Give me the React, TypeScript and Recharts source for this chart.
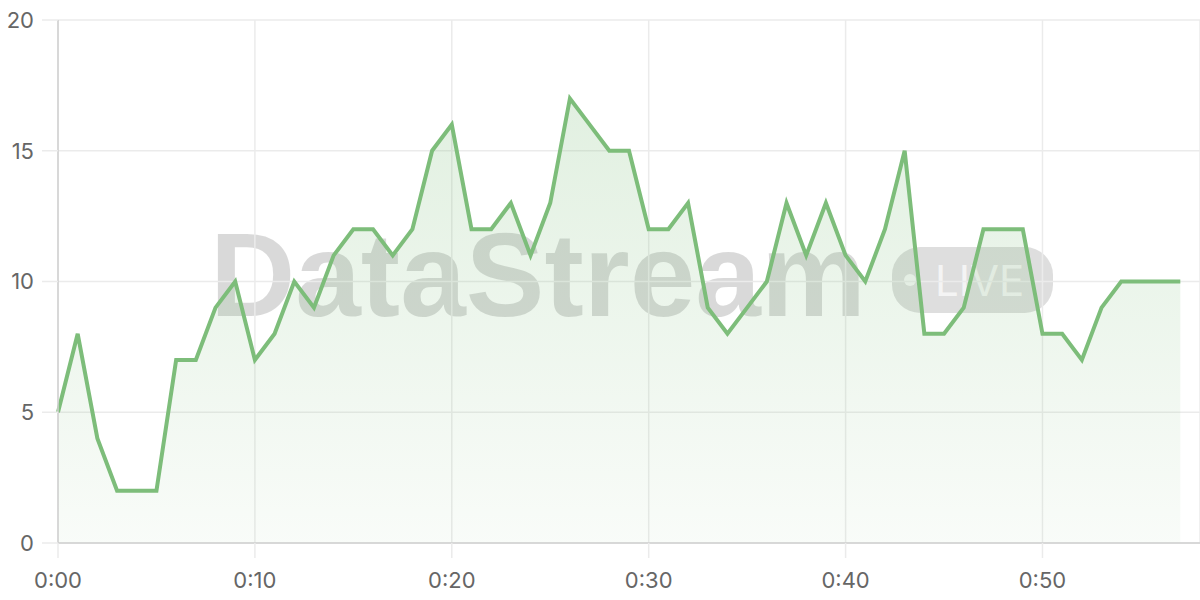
import React from "react";
import {
  AreaChart,
  Area,
  XAxis,
  YAxis,
  CartesianGrid,
} from "recharts";

// minute of the stream (x) and viewer count (y)
const minutes: number[] = [
  0, 1, 2, 3, 4, 5, 6, 7, 8, 9,
  10, 11, 12, 13, 14, 15, 16, 17, 18, 19,
  20, 21, 22, 23, 24, 25, 26, 27, 28, 29,
  30, 31, 32, 33, 34, 35, 36, 37, 38, 39,
  40, 41, 42, 43, 44, 45, 46, 47, 48, 49,
  50, 51, 52, 53, 54, 55, 56, 57,
];

const viewers: number[] = [
  5, 8, 4, 2, 2, 2, 7, 7, 9, 10,
  7, 8, 10, 9, 11, 12, 12, 11, 12, 15,
  16, 12, 12, 13, 11, 13, 17, 16, 15, 15,
  12, 12, 13, 9, 8, 9, 10, 13, 11, 13,
  11, 10, 12, 15, 8, 8, 9, 12, 12, 12,
  8, 8, 7, 9, 10, 10, 10, 10,
];

const xTicks: number[] = [0, 10, 20, 30, 40, 50];
const xTickLabels: string[] = ["0:00", "0:10", "0:20", "0:30", "0:40", "0:50"];
const yTicks: number[] = [0, 5, 10, 15, 20];

const data = minutes.map((m, i) => ({ minute: m, viewers: viewers[i] }));

const GRID = "#ebebeb";
const AXIS = "#d0d0d0";
const GREEN = "#7dbd7a";
const tickStyle = { fill: "#666", fontSize: 22, fontFamily: "Inter, sans-serif" };

// faint brand mark sitting behind the plot
const Watermark: React.FC = () => (
  <svg
    width={1200}
    height={600}
    style={{ position: "absolute", left: 0, top: 0 }}
  >
    <text
      x={210}
      y={316}
      fontFamily="'Liberation Sans', Arial, sans-serif"
      fontWeight="bold"
      fontSize={118}
      fill="rgba(0,0,0,0.15)"
    >
      DataStream
    </text>
    <rect x={892} y={247} width={161} height={66} rx={28} fill="rgba(0,0,0,0.13)" />
    <circle cx={910} cy={280} r={6} fill="rgba(255,255,255,0.75)" />
    <text
      x={935}
      y={296}
      fontFamily="Inter, sans-serif"
      fontSize={42}
      fill="rgba(255,255,255,0.7)"
    >
      LIVE
    </text>
  </svg>
);

const App: React.FC = () => {
  return (
    <div
      style={{
        position: "absolute",
        left: 0,
        top: 0,
        width: 1200,
        height: 600,
        background: "#fff",
      }}
    >
      <Watermark />
      <div style={{ position: "absolute", left: 0, top: 0 }}>
        <AreaChart
          width={1200}
          height={600}
          data={data}
          margin={{ top: 20, right: 0, left: 0, bottom: 0 }}
        >
          <defs>
            <linearGradient id="viewerFill" x1="0" y1="0" x2="0" y2="1">
              <stop offset="0%" stopColor={GREEN} stopOpacity={0.38} />
              <stop offset="100%" stopColor={GREEN} stopOpacity={0.08} />
            </linearGradient>
          </defs>
          <CartesianGrid stroke={GRID} strokeWidth={1.5} />
          <XAxis
            dataKey="minute"
            type="number"
            domain={[0, 58]}
            ticks={xTicks}
            tickFormatter={(v: number) => xTickLabels[xTicks.indexOf(v)] ?? ""}
            height={57}
            tickSize={15}
            tickMargin={14}
            tick={tickStyle}
            tickLine={{ stroke: GRID, strokeWidth: 1.5 }}
            axisLine={{ stroke: AXIS, strokeWidth: 1.5 }}
          />
          <YAxis
            domain={[0, 20]}
            ticks={yTicks}
            width={58}
            tickSize={16}
            tickMargin={8}
            tick={tickStyle}
            tickLine={{ stroke: GRID, strokeWidth: 1.5 }}
            axisLine={{ stroke: AXIS, strokeWidth: 1.5 }}
          />
          <Area
            type="linear"
            dataKey="viewers"
            stroke={GREEN}
            strokeWidth={4}
            fill="url(#viewerFill)"
            isAnimationActive={false}
            dot={false}
            activeDot={false}
          />
        </AreaChart>
      </div>
    </div>
  );
};

export default App;
